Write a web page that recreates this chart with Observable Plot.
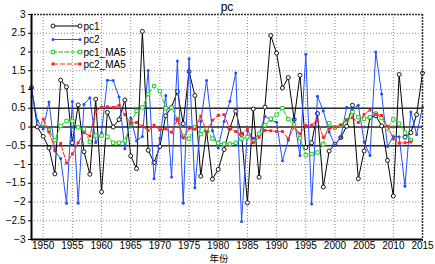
<!DOCTYPE html>
<html>
<head>
<meta charset="utf-8">
<script src="https://cdn.jsdelivr.net/npm/d3@7"></script>
<script src="https://cdn.jsdelivr.net/npm/@observablehq/plot@0.6"></script>
<style>
  html, body { margin: 0; padding: 0; background: #fff; }
</style>
</head>
<body>
<div id="chart"></div>
<script>
// ---- data ----
const startYear = 1948, endYear = 2015;
const years = d3.range(startYear, endYear + 1);           // 1948..2015
const maYears = d3.range(1950, 2014);                      // 1950..2013

const pc1 = [1.05, 0.00, -0.25, -0.56, -1.25, 1.25, 1.07, -0.42, 0.59, -0.66,
  -1.26, 0.74, -1.73, 0.39, 0.00, 0.20, 0.72, -0.77, -1.11, 2.55,
  -0.62, -0.95, -0.52, 0.30, 0.53, 0.95, 0.09, 1.48, 0.84, -1.31,
  -0.10, -1.39, -1.13, -0.60, -0.03, 0.42, -0.20, -2.02, 0.48, -1.34,
  0.53, 2.44, 1.97, 1.04, 1.32, 0.20, 1.38, -0.55, -0.42, 0.36,
  -1.60, -0.64, -0.46, -0.28, 0.02, 0.58, -1.38, -0.64, 0.25, 0.30,
  0.03, -0.89, -1.84, 1.40, -0.27, -0.15, 0.33, 1.44];

const pc2 = [1.03, 0.17, -0.05, 0.67, -0.64, -0.84, -2.03, 0.68, -2.03, 0.61,
  0.78, -0.41, -0.15, 1.25, 1.24, 0.80, -0.58, 0.24, -0.37, -0.25,
  1.51, -1.38, -0.30, 0.84, -1.33, 1.76, -2.03, 1.82, -1.62, 0.15,
  1.24, -0.10, -0.55, 0.15, 0.69, 1.44, -2.52, -0.10, -0.30, -0.20,
  0.29, 0.18, 0.13, -0.90, -0.35, 0.22, -0.76, 1.94, -2.05, 0.82,
  0.43, -0.13, -0.49, -0.27, 0.53, 0.47, 0.58, -0.40, -0.76, 2.00,
  0.88, -0.52, -0.25, -0.26, -1.58, 0.40, -0.20, 0.53];

const pc1MA5 = [0.09, -0.09, -0.35, 0.03, 0.16, 0.16, -0.01, -0.06, -0.40, -0.23,
  -0.23, -0.26, -0.42, -0.42, -0.36, 0.10, 0.43, 0.52, 0.88, 1.09,
  0.96, 0.50, 0.52, 0.21, -0.25, -0.31, 0.00, -0.19, -0.06, -0.31,
  -0.43, -0.45, -0.45, -0.42, -0.31, -0.27, -0.38, -0.18, 0.05, 0.22,
  0.33, 0.50, 0.21, 0.06, -0.30, -0.75, -0.72, -0.68, -0.46, 0.10,
  -0.02, 0.04, 0.18, 0.40, 0.26, 0.22, 0.26, 0.36, 0.24, -0.04,
  0.20, 0.09, -0.15, -0.35];

const pc2MA5 = [0.21, -0.13, -0.58, -0.44, -0.96, -0.72, -0.42, -0.15, -0.24, 0.41,
  0.53, 0.54, 0.52, 0.58, 0.33, 0.10, 0.12, 0.02, -0.09, 0.05,
  -0.08, -0.05, -0.14, 0.20, -0.29, -0.04, -0.06, 0.29, -0.14, 0.18,
  0.31, 0.33, -0.05, -0.12, -0.18, -0.05, -0.42, -0.27, -0.09, -0.10,
  -0.12, -0.12, -0.31, 0.00, -0.18, 0.04, 0.05, 0.18, -0.28, -0.05,
  0.00, 0.05, 0.18, 0.25, 0.12, 0.34, 0.45, 0.34, 0.31, 0.02,
  -0.31, -0.43, -0.42, -0.40];

const xTicks = [1950, 1955, 1960, 1965, 1970, 1975, 1980, 1985, 1990, 1995, 2000, 2005, 2010, 2015];
const yTicks = [-3, -2.5, -2, -1.5, -1, -0.5, 0, 0.5, 1, 1.5, 2, 2.5, 3];
const refLines = [0.5, 0, -0.5];
const seriesNames = ["pc1", "pc2", "pc1_MA5", "pc2_MA5"];
const titleText = "pc";
const xLabel = "年份";

// ---- tables built from the arrays ----
const d1 = years.map((x, i) => ({x, y: pc1[i]}));
const d2 = years.map((x, i) => ({x, y: pc2[i]}));
const d3a = maYears.map((x, i) => ({x, y: pc1MA5[i]}));
const d4 = maYears.map((x, i) => ({x, y: pc2MA5[i]}));

const C_BLACK = "#000000", C_BLUE = "#1f4fff", C_GREEN = "#1fd01f", C_RED = "#ff2020";
const yFmt = d => (d < 0 ? "\u2212" + String(Math.abs(d)) : String(d));

const chart = Plot.plot({
  width: 435,
  height: 264,
  marginTop: 14,
  marginLeft: 31,
  marginRight: 13,
  marginBottom: 25,
  style: {fontFamily: "'Liberation Sans', Arial, sans-serif", fontSize: "10px", background: "#fff", color: "#000"},
  x: {domain: [startYear, endYear]},
  y: {domain: [-3, 3]},
  marks: [
    Plot.gridX(xTicks, {stroke: "#8a8a8a", strokeOpacity: 1, strokeDasharray: "1,2"}),
    Plot.gridY(yTicks, {stroke: "#8a8a8a", strokeOpacity: 1, strokeDasharray: "1,2"}),
    Plot.ruleY(refLines, {stroke: "#2a2a2a", strokeWidth: 1.3}),
    Plot.line(d1, {x: "x", y: "y", stroke: C_BLACK, strokeWidth: 1}),
    Plot.dot(d1, {x: "x", y: "y", r: 2, stroke: C_BLACK, fill: "#fff", strokeWidth: 0.9}),
    Plot.line(d2, {x: "x", y: "y", stroke: C_BLUE, strokeWidth: 1}),
    Plot.dot(d2, {x: "x", y: "y", r: 1.5, fill: C_BLUE, stroke: "none"}),
    Plot.line(d3a, {x: "x", y: "y", stroke: C_GREEN, strokeWidth: 1, strokeDasharray: "4,2"}),
    Plot.dot(d3a, {x: "x", y: "y", symbol: "square", r: 1.9, stroke: C_GREEN, fill: "#fff", strokeWidth: 1}),
    Plot.line(d4, {x: "x", y: "y", stroke: C_RED, strokeWidth: 1, strokeDasharray: "5,2"}),
    Plot.dot(d4, {x: "x", y: "y", symbol: "square", r: 1.6, fill: C_RED, stroke: "none"}),
    Plot.ruleY([3], {stroke: "#333", strokeWidth: 1.5, strokeDasharray: "2,1"}),
    Plot.ruleX([endYear], {stroke: "#333", strokeWidth: 1.5, strokeDasharray: "2,1"}),
    Plot.ruleX([startYear], {stroke: "#000", strokeWidth: 2}),
    Plot.ruleY([-3], {stroke: "#000", strokeWidth: 2}),
    Plot.axisX({ticks: xTicks, tickSize: 2, tickPadding: 0, tickFormat: d => String(d), label: null, fontSize: 10}),
    Plot.axisY({ticks: yTicks, tickSize: 3, tickPadding: 3, tickFormat: yFmt, label: null, fontSize: 10}),
    Plot.text([titleText], {frameAnchor: "top", lineAnchor: "middle", dy: -7, fontSize: 12, fill: "#000"}),
    Plot.text([xLabel], {frameAnchor: "bottom", lineAnchor: "middle", dy: 19.3, dx: -8, fontSize: 9.5, fill: "#000", fontFamily: "'Noto Sans CJK SC', sans-serif"})
  ]
});

document.getElementById("chart").appendChild(chart);

// ---- legend (inside the plot, top-left) ----
const svg = d3.select(chart);
const leg = svg.append("g").attr("font-size", 10).attr("text-anchor", "start")
  .attr("font-family", "'Liberation Sans', Arial, sans-serif");
const styles = [
  {color: C_BLACK, dash: null, marker: "circle"},
  {color: C_BLUE, dash: null, marker: "dot"},
  {color: C_GREEN, dash: "4,2", marker: "openSquare"},
  {color: C_RED, dash: "5,2", marker: "square"}
];
const rowY = [26, 39.5, 52, 64];
seriesNames.forEach((name, i) => {
  const s = styles[i], y = rowY[i], x0 = 53, x1 = 80;
  const g = leg.append("g");
  g.append("line").attr("x1", x0).attr("x2", x1).attr("y1", y).attr("y2", y)
    .attr("stroke", s.color).attr("stroke-width", 1).attr("stroke-dasharray", s.dash);
  [x0, x1].forEach(x => {
    if (s.marker === "circle") g.append("circle").attr("cx", x).attr("cy", y).attr("r", 2).attr("fill", "#fff").attr("stroke", s.color).attr("stroke-width", 0.9);
    else if (s.marker === "dot") g.append("circle").attr("cx", x).attr("cy", y).attr("r", 1.5).attr("fill", s.color);
    else if (s.marker === "openSquare") g.append("rect").attr("x", x - 1.7).attr("y", y - 1.7).attr("width", 3.4).attr("height", 3.4).attr("fill", "#fff").attr("stroke", s.color).attr("stroke-width", 1);
    else g.append("rect").attr("x", x - 1.5).attr("y", y - 1.5).attr("width", 3).attr("height", 3).attr("fill", s.color);
  });
  g.append("text").attr("x", 83.5).attr("y", y).attr("dy", "0.35em").attr("text-anchor", "start").attr("fill", "#000").text(name);
});
</script>
</body>
</html>
